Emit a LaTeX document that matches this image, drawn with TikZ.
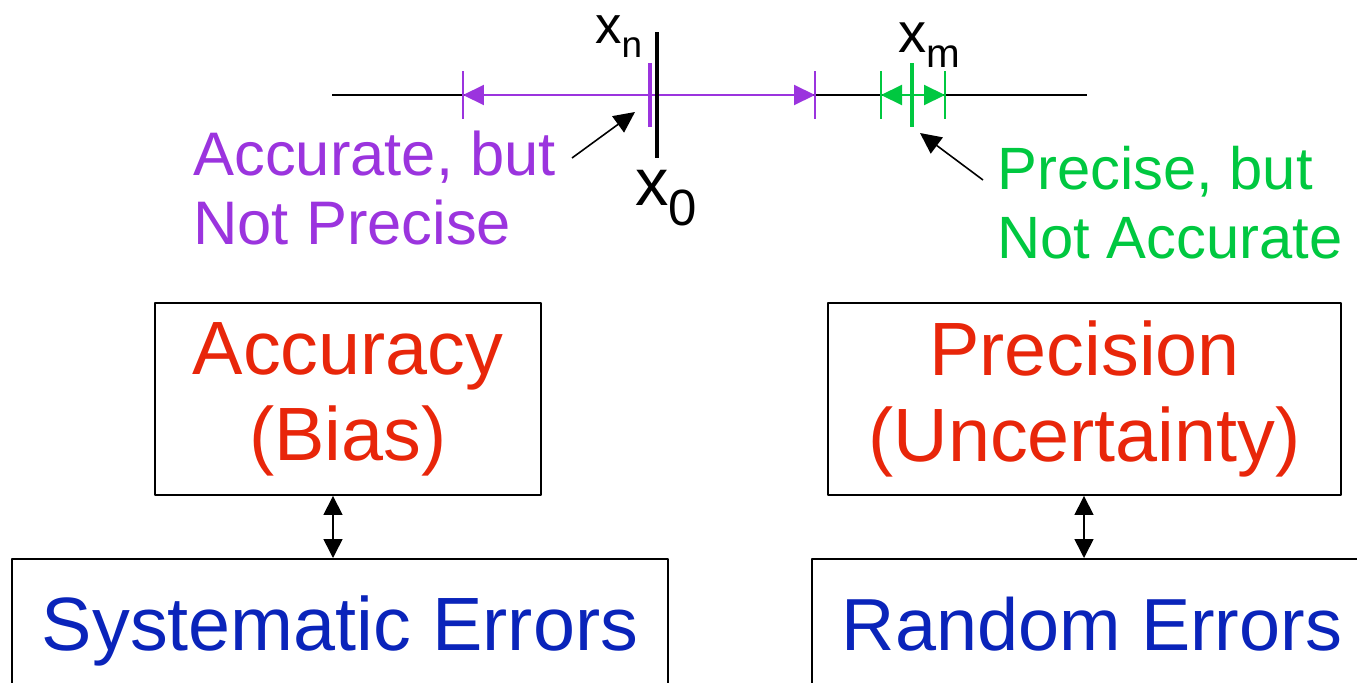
\documentclass[tikz,border=0pt]{standalone}
\usepackage{fontspec}
\setmainfont{Liberation Sans}
\usetikzlibrary{arrows.meta}

\definecolor{accpurple}{RGB}{155,52,222}
\definecolor{precgreen}{RGB}{0,200,64}
\definecolor{qualred}{RGB}{232,38,10}
\definecolor{errblue}{RGB}{10,36,186}

\begin{document}
\begin{tikzpicture}[x=0.02cm, y=-0.02cm, line join=round, dim_line/.style={line width=1.2pt, {Triangle[length=4.2mm,width=4mm]}-{Triangle[length=4.2mm,width=4mm]}}, end_tick/.style={line width=1.2pt}, mean_tick/.style={line width=2.8pt}, pointer/.style={line width=0.9pt, -{Triangle[length=4.2mm,width=4mm]}}, both_way/.style={line width=0.9pt, {Triangle[length=3.8mm,width=3.8mm]}-{Triangle[length=3.8mm,width=3.8mm]}}, quality_box/.style={draw, line width=1.1pt, minimum height=3.84cm, align=center, text=qualred, font=\fontsize{43}{49}\selectfont}, error_box/.style={draw, line width=1.1pt, anchor=north, inner ysep=0.64cm, text height=1.2cm, text depth=3cm, text=errblue, font=\fontsize{43}{49}\selectfont}]
				\useasboundingbox (0,0) rectangle (1357,683);
				\clip (0,0) rectangle (1357,683);
				% number line
				\coordinate (line_l) at (332,95);
				\coordinate (line_r) at (1087,95);
				\draw[line width=1.1pt] (line_l) -- (line_r);
				% accurate but not precise
				\coordinate (pl) at (463,95);
				\coordinate (pr) at (815,95);
				\coordinate (xn) at (650,95);
				\foreach \c in {pl,pr} \draw[end_tick, accpurple] (\c) ++(0,-24) -- ++(0,48);
				\draw[dim_line, accpurple] (pl) -- (pr);
				\draw[mean_tick, accpurple] (xn) ++(0,-32) -- ++(0,64);
				% true value
				\coordinate (x0_top) at (657,32);
				\coordinate (x0_bot) at (657,158);
				\draw[mean_tick] (x0_top) -- (x0_bot);
				% precise but not accurate
				\coordinate (gl) at (881,95);
				\coordinate (gr) at (945,95);
				\coordinate (xm) at (912,95);
				\foreach \c in {gl,gr} \draw[end_tick, precgreen] (\c) ++(0,-24) -- ++(0,48);
				\draw[dim_line, precgreen] (gl) -- (gr);
				\draw[mean_tick, precgreen] (xm) ++(0,-32) -- ++(0,64);
				% labels
				\node[anchor=base west, inner sep=0, font=\fontsize{30}{30}\selectfont] (xn_lab) at (595,43) {x\raisebox{-0.28em}{\fontsize{21}{21}\selectfont n}};
				\node[anchor=base west, inner sep=0, font=\fontsize{32}{32}\selectfont] (xm_lab) at (898,52) {x\raisebox{-0.27em}{\fontsize{23}{23}\selectfont m}};
				\node[anchor=base west, inner sep=0, font=\fontsize{38}{38}\selectfont] (x0_lab) at (635,205) {x\raisebox{-0.3em}{\fontsize{29}{29}\selectfont 0}};
				\node[anchor=north west, align=left, inner sep=0, text=accpurple, font=\fontsize{35}{39}\selectfont] (acc_note) at (193,131) {Accurate, but\\Not Precise};
				\node[anchor=north west, align=left, inner sep=0, text=precgreen, font=\fontsize{34}{39}\selectfont] (prec_note) at (997,146) {Precise, but\\Not Accurate};
				\coordinate (acc_tail) at (572,158);
				\coordinate (acc_tip) at (635,112);
				\coordinate (prec_tail) at (983,180);
				\coordinate (prec_tip) at (920,133);
				\draw[pointer] (acc_tail) -- (acc_tip);
				\draw[pointer] (prec_tail) -- (prec_tip);
				% boxes
				\node[quality_box, minimum width=7.72cm] (acc) at (348,399) {Accuracy\\(Bias)};
				\node[quality_box, minimum width=10.26cm] (prec) at (1084.5,399) {Precision\\(Uncertainty)};
				\node[error_box, minimum width=13.12cm] (sys) at (340,558) {Systematic Errors};
				\node[error_box, minimum width=11.2cm, font=\fontsize{42}{48}\selectfont] (rand) at (1092,558) {Random Errors};
				\draw[both_way] ([xshift=-0.3cm]acc.south) -- ([xshift=-0.14cm]sys.north);
				\draw[both_way] ([xshift=-0.01cm]prec.south) -- ([xshift=-0.16cm]rand.north);
			\end{tikzpicture}
\end{document}
